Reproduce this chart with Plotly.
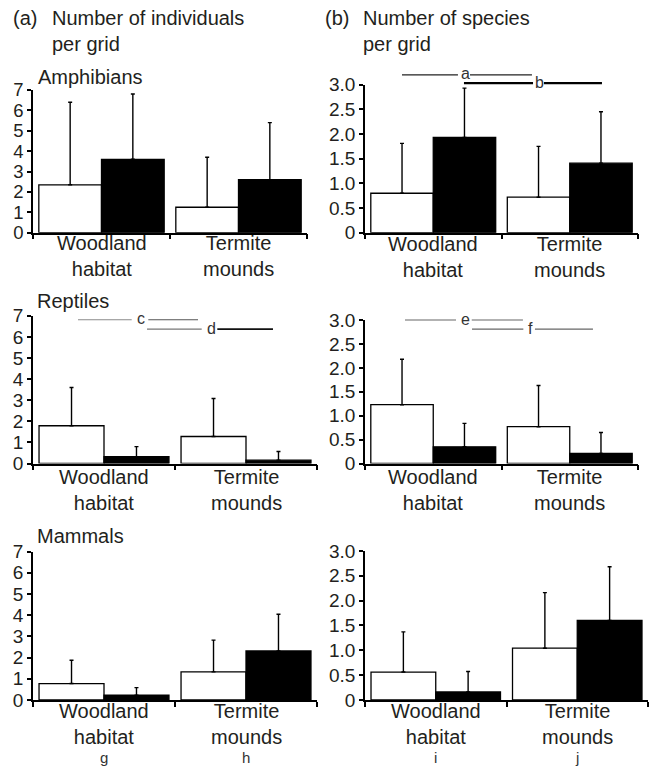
import plotly.graph_objects as go

W, H = 651, 776
# measured vertical mapping of the photographed page (photo_y = TOP + SCALE * page_y)
VIEW_TOP, VIEW_SCALE = 10.35, 0.9713

# ---------------- data ----------------
categories = ["Woodland habitat", "Termite mounds"]
cat_labels = ["Woodland<br>habitat", "Termite<br>mounds"]
bottom_letters_left = ["g", "h"]
bottom_letters_right = ["i", "j"]

ind_ticks = [0, 1, 2, 3, 4, 5, 6, 7]
ind_ticktext = ["0", "1", "2", "3", "4", "5", "6", "7"]
sp_ticks = [0, 0.5, 1.0, 1.5, 2.0, 2.5, 3.0]
sp_ticktext = ["0", "0.5", "1.0", "1.5", "2.0", "2.5", "3.0"]

# Amphibians
amph_ind_open = [2.35, 1.25]
amph_ind_open_err = [4.05, 2.45]
amph_ind_filled = [3.6, 2.6]
amph_ind_filled_err = [3.2, 2.8]
amph_sp_open = [0.80, 0.72]
amph_sp_open_err = [1.01, 1.03]
amph_sp_filled = [1.93, 1.41]
amph_sp_filled_err = [1.00, 1.04]
# Reptiles
rept_ind_open = [1.79, 1.28]
rept_ind_open_err = [1.81, 1.80]
rept_ind_filled = [0.32, 0.16]
rept_ind_filled_err = [0.48, 0.41]
rept_sp_open = [1.23, 0.77]
rept_sp_open_err = [0.95, 0.86]
rept_sp_filled = [0.35, 0.21]
rept_sp_filled_err = [0.49, 0.44]
# Mammals
mamm_ind_open = [0.77, 1.32]
mamm_ind_open_err = [1.10, 1.50]
mamm_ind_filled = [0.22, 2.31]
mamm_ind_filled_err = [0.36, 1.73]
mamm_sp_open = [0.56, 1.04]
mamm_sp_open_err = [0.81, 1.12]
mamm_sp_filled = [0.16, 1.60]
mamm_sp_filled_err = [0.41, 1.08]

# significance lines (panel, label, y, start, left-seg end, label pos, right-seg start, end)
sig_lines = [
    dict(panel=2, label="a", y=3.20, x0=-0.229, xa=0.181, xl=0.233, xb=0.269, x1=0.723,
         cl="#222", cr="#222", wl=1.3, wr=1.3),
    dict(panel=2, label="b", y=3.03, x0=0.225, xa=0.731, xl=0.775, xb=0.811, x1=1.236,
         cl="#000", cr="#000", wl=2.2, wr=2.2),
    dict(panel=3, label="c", y=6.81, x0=-0.183, xa=0.195, xl=0.261, xb=0.312, x1=0.662,
         cl="#8a8a8a", cr="#555", wl=1.2, wr=1.2),
    dict(panel=3, label="d", y=6.37, x0=0.303, xa=0.688, xl=0.754, xb=0.798, x1=1.190,
         cl="#777", cr="#111", wl=1.2, wr=1.8),
    dict(panel=4, label="e", y=3.00, x0=-0.207, xa=0.167, xl=0.233, xb=0.282, x1=0.657,
         cl="#666", cr="#666", wl=1.1, wr=1.1),
    dict(panel=4, label="f", y=2.81, x0=0.284, xa=0.660, xl=0.709, xb=0.745, x1=1.170,
         cl="#666", cr="#666", wl=1.1, wr=1.1),
]

# ---------------- layout geometry (reference pixels) ----------------
panels = [
    dict(open=amph_ind_open, open_err=amph_ind_open_err, filled=amph_ind_filled,
         filled_err=amph_ind_filled_err, ymax=7, tv=ind_ticks, tt=ind_ticktext,
         xpx=(33, 307), ypx=(89.3, 232), tfs=18.5),
    dict(open=amph_sp_open, open_err=amph_sp_open_err, filled=amph_sp_filled,
         filled_err=amph_sp_filled_err, ymax=3, tv=sp_ticks, tt=sp_ticktext,
         xpx=(365, 638), ypx=(84, 232), tfs=19),
    dict(open=rept_ind_open, open_err=rept_ind_open_err, filled=rept_ind_filled,
         filled_err=rept_ind_filled_err, ymax=7, tv=ind_ticks, tt=ind_ticktext,
         xpx=(33, 317), ypx=(315, 462.7), tfs=19),
    dict(open=rept_sp_open, open_err=rept_sp_open_err, filled=rept_sp_filled,
         filled_err=rept_sp_filled_err, ymax=3, tv=sp_ticks, tt=sp_ticktext,
         xpx=(365, 638), ypx=(319.3, 462.7), tfs=19),
    dict(open=mamm_ind_open, open_err=mamm_ind_open_err, filled=mamm_ind_filled,
         filled_err=mamm_ind_filled_err, ymax=7, tv=ind_ticks, tt=ind_ticktext,
         xpx=(33, 317), ypx=(550.7, 699), tfs=19),
    dict(open=mamm_sp_open, open_err=mamm_sp_open_err, filled=mamm_sp_filled,
         filled_err=mamm_sp_filled_err, ymax=3, tv=sp_ticks, tt=sp_ticktext,
         xpx=(365, 648), ypx=(550, 699), tfs=19),
]

FONT = "Liberation Sans, Arial, Helvetica, sans-serif"
TXT = "#231f20"


def fx(px):
    return px / W


def fy(px):
    page = (px - VIEW_TOP) / VIEW_SCALE
    return 1 - page / H


def data_to_paper_x(p, idx):
    x0, x1 = fx(p["xpx"][0]), fx(p["xpx"][1])
    return x0 + (idx + 0.5) / 2.0 * (x1 - x0)


def data_to_paper_y(p, v):
    yb, yt = fy(p["ypx"][1]), fy(p["ypx"][0])
    return yb + v / p["ymax"] * (yt - yb)


fig = go.Figure()
layout = dict(
    width=W, height=H, margin=dict(l=0, r=0, t=0, b=0, pad=0), autosize=False,
    paper_bgcolor="white", plot_bgcolor="white",
    barmode="group", bargap=0.085, bargroupgap=0,
    showlegend=False, font=dict(family=FONT, color=TXT, size=19),
)

for i, p in enumerate(panels, start=1):
    sfx = "" if i == 1 else str(i)
    xa, ya = "x" + sfx, "y" + sfx
    fig.add_trace(go.Bar(
        x=categories, y=p["open"], xaxis=xa, yaxis=ya, offsetgroup="open",
        name="open", marker=dict(color="white", line=dict(color="black", width=1.3)),
        error_y=dict(type="data", array=p["open_err"], symmetric=False,
                     arrayminus=[0, 0], color="black", thickness=1.4, width=2),
    ))
    fig.add_trace(go.Bar(
        x=categories, y=p["filled"], xaxis=xa, yaxis=ya, offsetgroup="filled",
        name="filled", marker=dict(color="black", line=dict(color="black", width=1.3)),
        error_y=dict(type="data", array=p["filled_err"], symmetric=False,
                     arrayminus=[0, 0], color="black", thickness=1.4, width=2),
    ))
    layout["xaxis" + sfx] = dict(
        domain=[fx(p["xpx"][0]), fx(p["xpx"][1])], anchor=ya,
        type="category", categoryorder="array", categoryarray=categories,
        range=[-0.5, 1.5], showline=True, linecolor="black", linewidth=1.5,
        ticks="outside", tickson="boundaries", ticklen=5, tickwidth=1.5,
        tickcolor="black", showticklabels=False, showgrid=False, zeroline=False,
    )
    layout["yaxis" + sfx] = dict(
        domain=[fy(p["ypx"][1]), fy(p["ypx"][0])], anchor=xa,
        range=[0, p["ymax"]], tickmode="array", tickvals=p["tv"], ticktext=p["tt"],
        showline=True, linecolor="black", linewidth=1.5, ticks="outside",
        ticklen=4, tickwidth=1.5, tickcolor="black", showgrid=False, zeroline=False,
        tickfont=dict(size=p["tfs"], color=TXT, family=FONT),
    )

fig.update_layout(**layout)

annotations = []
shapes = []

# category labels under each axis (centre of the two-line block, reference pixels)
label_mid = {1: 255.2, 2: 256.0, 3: 489.2, 4: 489.2, 5: 723.3, 6: 723.3}
for i in range(1, 7):
    sfx = "" if i == 1 else str(i)
    for k, cat in enumerate(categories):
        annotations.append(dict(x=cat, xref="x" + sfx, y=fy(label_mid[i]), yref="paper",
                                text=cat_labels[k], showarrow=False, xanchor="center",
                                yanchor="middle", borderpad=0, align="center",
                                font=dict(size=20, color=TXT)))

# bottom letters (as low as the page allows)
letters_y = 1 - 768.0 / H
for k, cat in enumerate(categories):
    annotations.append(dict(x=cat, xref="x5", y=letters_y, yref="paper",
                            text=bottom_letters_left[k], showarrow=False,
                            xanchor="center", yanchor="middle", borderpad=0,
                            font=dict(size=15, color="#333")))
    annotations.append(dict(x=cat, xref="x6", y=letters_y, yref="paper",
                            text=bottom_letters_right[k], showarrow=False,
                            xanchor="center", yanchor="middle", borderpad=0,
                            font=dict(size=15, color="#333")))


# headings
def txt(x, y, s, size=20, anchor="middle"):
    annotations.append(dict(x=fx(x), y=fy(y), xref="paper", yref="paper", text=s,
                            showarrow=False, xanchor="left", yanchor=anchor, align="left",
                            borderpad=0, font=dict(size=size, color=TXT)))


txt(12, 17.6, "(a)")
txt(51, 30.0, "Number of individuals<br>per grid")
txt(324, 17.6, "(b)")
txt(362, 30.0, "Number of species<br>per grid")
txt(37, 76.7, "Amphibians")
txt(36, 300, "Reptiles")
txt(36, 535, "Mammals")

# significance lines
for s in sig_lines:
    p = panels[s["panel"] - 1]
    yv = data_to_paper_y(p, s["y"])
    shapes.append(dict(type="line", xref="paper", yref="paper",
                       x0=data_to_paper_x(p, s["x0"]), x1=data_to_paper_x(p, s["xa"]),
                       y0=yv, y1=yv, line=dict(color=s["cl"], width=s["wl"])))
    shapes.append(dict(type="line", xref="paper", yref="paper",
                       x0=data_to_paper_x(p, s["xb"]), x1=data_to_paper_x(p, s["x1"]),
                       y0=yv, y1=yv, line=dict(color=s["cr"], width=s["wr"])))
    annotations.append(dict(x=data_to_paper_x(p, s["xl"]), y=yv + 1.0 / H,
                            xref="paper", yref="paper", text=s["label"], showarrow=False,
                            xanchor="center", yanchor="middle", borderpad=0,
                            font=dict(size=16, color="#333")))

fig.update_layout(annotations=annotations, shapes=shapes)
fig.write_html(
    "out.html",
    config={"responsive": False, "displayModeBar": False},
    post_script=(
        "document.documentElement.style.margin='0px';"
        "document.documentElement.style.overflow='hidden';"
        "document.body.style.margin='0px';document.body.style.padding='0px';"
        "document.body.style.overflow='hidden';"
        "var gd=document.getElementById('{plot_id}');"
        "gd.style.position='fixed';gd.style.top='0px';gd.style.left='0px';"
    ),
)
